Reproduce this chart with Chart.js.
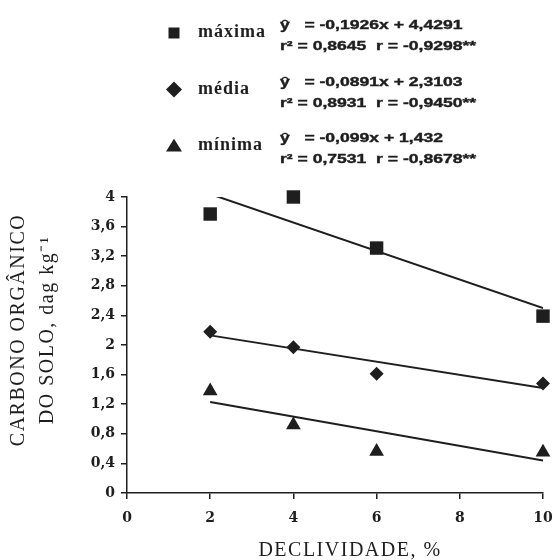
<!DOCTYPE html>
<html>
<head>
<meta charset="utf-8">
<script src="https://cdn.jsdelivr.net/npm/chart.js@4.4.1/dist/chart.umd.min.js"></script>
<style>
  html, body { margin: 0; padding: 0; background: #fff; }
  #wrap { width: 555px; height: 560px; }
</style>
</head>
<body>
<div id="wrap"><canvas id="carbonoChart" width="555" height="560"></canvas></div>
<script>
// declividade (%) e carbono orgânico (dag/kg)
const declividade = [2, 4, 6, 10];
const maxima = [3.77, 4.0, 3.31, 2.39];
const media = [2.18, 1.97, 1.61, 1.48];
const minima = [1.38, 0.92, 0.56, 0.55];

const retaX = [2, 10];
const retaMaxima = [4.04, 2.50];
const retaMedia = [2.13, 1.42];
const retaMinima = [1.23, 0.44];

const legendItems = [
    { name: 'máxima', marker: 'rect', eq1: 'ŷ   = -0,1926x + 4,4291', eq2: 'r² = 0,8645  r = -0,9298**' },
    { name: 'média', marker: 'diamond', eq1: 'ŷ   = -0,0891x + 2,3103', eq2: 'r² = 0,8931  r = -0,9450**' },
    { name: 'mínima', marker: 'triangle', eq1: 'ŷ   = -0,099x + 1,432', eq2: 'r² = 0,7531  r = -0,8678**' }
];

const INK = '#1e1e1e';

function toPoints(xs, ys) {
    return xs.map((x, i) => ({ x: x, y: ys[i] }));
}

function fmt(v) {
    return String(Number(v.toFixed(1))).replace('.', ',');
}

function markerPath(ctx, type, cx, cy, s) {
    ctx.beginPath();
    if (type === 'rect') {
        ctx.rect(cx - s / 2, cy - s / 2, s, s);
    } else if (type === 'diamond') {
        ctx.moveTo(cx, cy - s / 2);
        ctx.lineTo(cx + s / 2, cy);
        ctx.lineTo(cx, cy + s / 2);
        ctx.lineTo(cx - s / 2, cy);
        ctx.closePath();
    } else {
        ctx.moveTo(cx, cy - s * 0.45);
        ctx.lineTo(cx + s / 2, cy + s * 0.35);
        ctx.lineTo(cx - s / 2, cy + s * 0.35);
        ctx.closePath();
    }
    ctx.fill();
}

// texto largo como no original (fonte esticada na horizontal)
function wideText(ctx, text, x, y, sx) {
    ctx.save();
    ctx.translate(x, y);
    ctx.scale(sx, 1);
    ctx.fillText(text, 0, 0);
    ctx.strokeText(text, 0, 0);
    ctx.restore();
}

const annotations = {
    id: 'annotations',
    afterDraw(chart) {
        const ctx = chart.ctx;
        ctx.save();
        ctx.fillStyle = INK;
        ctx.strokeStyle = INK;
        ctx.lineWidth = 0.4;

        // legenda com equações
        legendItems.forEach((item, i) => {
            const top = i * 56.5;
            markerPath(ctx, item.marker, 174, 33 + top, item.marker === 'rect' ? 11 : 16);
            ctx.textAlign = 'left';
            ctx.textBaseline = 'alphabetic';
            ctx.letterSpacing = '1px';
            ctx.font = 'bold 18px "Liberation Serif"';
            ctx.fillText(item.name, 198, 37 + top);
            ctx.letterSpacing = '0px';
            ctx.font = 'bold 13px "Liberation Sans"';
            wideText(ctx, item.eq1, 280, 29 + top, 1.35);
            wideText(ctx, item.eq2, 280, 50 + top, 1.35);
        });

        // título do eixo x
        ctx.letterSpacing = '1.5px';
        ctx.font = '20px "Liberation Serif"';
        ctx.textAlign = 'center';
        ctx.fillText('DECLIVIDADE, %', 350, 556);

        // título do eixo y (duas linhas)
        ctx.translate(0, 330);
        ctx.rotate(-Math.PI / 2);
        ctx.fillText('CARBONO ORGÂNICO', 0, 24);
        ctx.fillText('DO SOLO, dag kg⁻¹', 0, 53);
        ctx.restore();
    }
};

function scatterSet(label, ys, style, radius) {
    return {
        type: 'scatter',
        label: label,
        data: toPoints(declividade, ys),
        pointStyle: style,
        pointRadius: radius,
        pointBackgroundColor: INK,
        pointBorderColor: INK,
        pointBorderWidth: 0,
        clip: false
    };
}

function lineSet(label, ys) {
    return {
        type: 'line',
        label: label,
        data: toPoints(retaX, ys),
        borderColor: INK,
        borderWidth: 2,
        pointRadius: 0,
        fill: false,
        tension: 0
    };
}

const ctx = document.getElementById('carbonoChart').getContext('2d');

new Chart(ctx, {
    data: {
        datasets: [
            lineSet('reta máxima', retaMaxima),
            lineSet('reta média', retaMedia),
            lineSet('reta mínima', retaMinima),
            scatterSet('máxima', maxima, 'rect', 9.5),
            scatterSet('média', media, 'rectRot', 7),
            scatterSet('mínima', minima, 'triangle', 8.5)
        ]
    },
    options: {
        responsive: false,
        animation: false,
        devicePixelRatio: 1,
        layout: { padding: { top: 197, left: 0, right: 12, bottom: 0 } },
        plugins: {
            legend: { display: false },
            tooltip: { enabled: false }
        },
        scales: {
            x: {
                type: 'linear',
                min: 0,
                max: 10,
                ticks: {
                    stepSize: 2,
                    padding: 11,
                    color: INK,
                    font: { family: '"DejaVu Serif"', weight: 'bold', size: 14 }
                },
                grid: { drawOnChartArea: false, tickLength: 6, color: INK, lineWidth: 1.5 },
                border: { color: INK, width: 1.5 },
                afterFit: function(scale) {
                    scale.height = 67;
                    scale.paddingLeft = 0;
                    scale.paddingRight = 0;
                }
            },
            y: {
                type: 'linear',
                min: 0,
                max: 4,
                ticks: {
                    stepSize: 0.4,
                    padding: 6,
                    color: INK,
                    font: { family: '"DejaVu Serif"', weight: 'bold', size: 14 },
                    callback: function(value) { return fmt(value); }
                },
                grid: { drawOnChartArea: false, tickLength: 6, color: INK, lineWidth: 1.5 },
                border: { color: INK, width: 1.5 },
                afterFit: function(scale) { scale.width = 127; }
            }
        }
    },
    plugins: [annotations]
});
</script>
</body>
</html>
